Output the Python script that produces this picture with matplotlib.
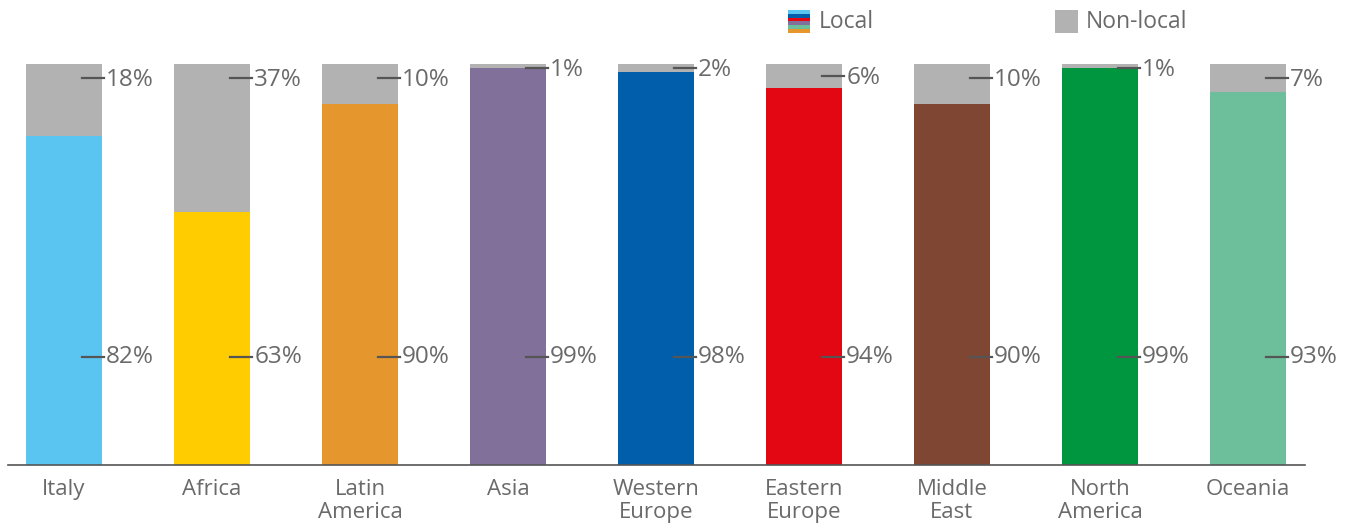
import matplotlib.pyplot as plt
import numpy as np

regions = ["Italy", "Africa", "Latin\nAmerica", "Asia", "Western\nEurope",
           "Eastern\nEurope", "Middle\nEast", "North\nAmerica", "Oceania"]
local = [82, 63, 90, 99, 98, 94, 90, 99, 93]
non_local = [18, 37, 10, 1, 2, 6, 10, 1, 7]
colors = ["#5BC5F2", "#FFCC00", "#E5972E", "#80709A", "#005EAB",
          "#E30613", "#7F4733", "#009640", "#6CBF9A"]
grey = "#B2B2B2"
txt = "#6A6A6A"

plt.rcParams['font.family'] = ['Open Sans', 'DejaVu Sans']

fig = plt.figure(figsize=(13.55, 5.26), dpi=100)
ax = fig.add_axes([8 / 1355, 61 / 526, 1297 / 1355, 401 / 526])

x = np.arange(len(regions))
w = 0.515
ax.bar(x, local, width=w, color=colors, zorder=2)
ax.bar(x, non_local, width=w, bottom=local, color=grey, zorder=2)

for xi, lv, nv in zip(x, local, non_local):
    # local label
    y1 = 27.0
    ax.plot([xi + 0.12, xi + 0.27], [y1, y1], color="#555555", lw=1.6, zorder=3, clip_on=False)
    ax.text(xi + 0.285, y1, f"{lv}%", va="center", ha="left", fontsize=17.5, color=txt)
    # non-local label, kept near the top of the bar
    y2 = 99.5 - min(max(nv, 2) / 2, 3.5)
    ax.plot([xi + 0.12, xi + 0.27], [y2 + 0.4, y2 + 0.4], color="#555555", lw=1.6, zorder=3, clip_on=False)
    ax.text(xi + 0.285, y2, f"{nv}%", va="center", ha="left", fontsize=17.5, color=txt)

ax.set_xlim(-0.378, 8.385)
ax.set_ylim(0, 100)
for s in ["top", "right", "left"]:
    ax.spines[s].set_visible(False)
ax.spines["bottom"].set_color("#555555")
ax.spines["bottom"].set_linewidth(1.2)
ax.set_yticks([])
ax.set_xticks(x)
ax.set_xticklabels(regions, fontsize=16, color=txt, linespacing=1.15)
ax.tick_params(axis="x", length=0, pad=10)

# legend: striped icon for local, grey square for non-local
icon = fig.add_axes([788 / 1355, (526 - 33) / 526, 22 / 1355, 23 / 526])
stripe_cols = ["#5BC5F2", "#005EAB", "#E30613", "#80709A", "#6CBF9A", "#E5972E"]
icon.barh(np.arange(len(stripe_cols))[::-1], [1] * len(stripe_cols), height=1.0,
          color=stripe_cols)
icon.set_xlim(0, 1)
icon.set_ylim(-0.5, len(stripe_cols) - 0.5)
icon.axis("off")
fig.text(819 / 1355, 1 - 22 / 526, "Local", fontsize=16.5, color=txt, va="center", ha="left")

icon2 = fig.add_axes([1055 / 1355, (526 - 33) / 526, 23 / 1355, 23 / 526])
icon2.bar([0], [1], width=1.0, color=grey)
icon2.set_xlim(-0.5, 0.5)
icon2.set_ylim(0, 1)
icon2.axis("off")
fig.text(1086 / 1355, 1 - 22 / 526, "Non-local", fontsize=16.5, color=txt, va="center", ha="left")

fig.savefig("out.png", dpi=100)
